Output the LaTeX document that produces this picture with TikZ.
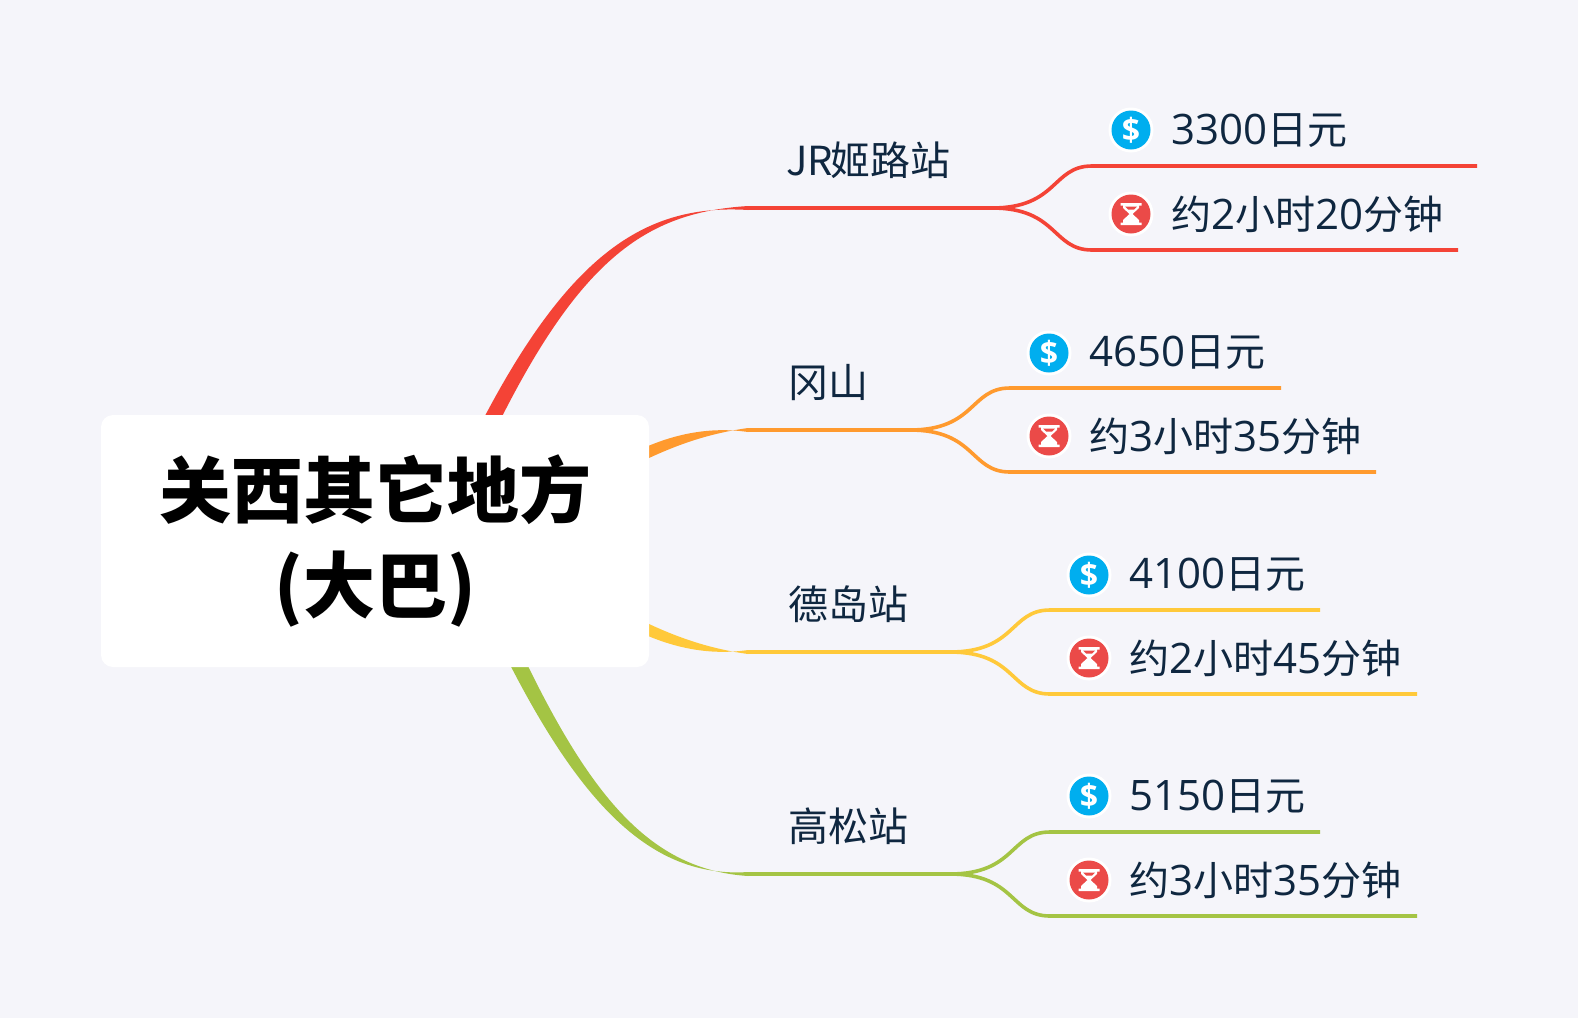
\documentclass[tikz,border=0pt]{standalone}
\usepackage{fontspec}
\setmainfont{Noto Sans}
\newfontfamily\cjk{Noto Sans CJK SC}
\newfontfamily\lat{Open Sans}
\definecolor{bgc}{HTML}{F5F5FA}
\definecolor{ink}{HTML}{0F2740}
\definecolor{cred}{HTML}{F44336}
\definecolor{corg}{HTML}{FF9A2E}
\definecolor{cyel}{HTML}{FFC93A}
\definecolor{cgrn}{HTML}{A4C444}
\definecolor{iblue}{HTML}{00AEEF}
\definecolor{ired}{HTML}{EB4A48}
\newcommand{\dg}[1]{{\lat\fontsize{42}{48}\selectfont #1}}
\tikzset{
  x=1pt,y=-1pt,
  rootbox/.style={fill=white,rounded corners=12pt,minimum width=548pt,minimum height=252pt,inner sep=0pt,align=center,text=black,font=\cjk\bfseries\fontsize{72}{96}\selectfont},
  branchlabel/.style={anchor=base west,inner sep=0pt,text=ink,font=\cjk\fontsize{40}{48}\selectfont},
  leaflabel/.style={anchor=base west,inner sep=0pt,text=ink,font=\cjk\fontsize{40}{48}\selectfont},
  iconring/.style={circle,fill=white,minimum size=45pt,inner sep=0pt},
  moneyicon/.style={iconring,path picture={\fill[iblue] (path picture bounding box.center) circle[radius=19.5pt];
     \node[text=white,font=\lat\bfseries\fontsize{32}{32}\selectfont,inner sep=0pt] at (path picture bounding box.center) {\$};}},
  timeicon/.style={iconring,path picture={\fill[ired] (path picture bounding box.center) circle[radius=19.5pt];
     \begin{scope}[shift={(path picture bounding box.center)}]
       \fill[white] (-10.5,-11) -- (10.5,-11) -- (10.5,-8.5) -- (8,-8.5) -- (8,-6) -- (1.5,0) -- (8,6) -- (8,8.5) -- (10.5,8.5) -- (10.5,11) -- (-10.5,11) -- (-10.5,8.5) -- (-8,8.5) -- (-8,6) -- (-1.5,0) -- (-8,-6) -- (-8,-8.5) -- (-10.5,-8.5) -- cycle;
       \fill[ired] (-6,-7.5) -- (6,-7.5) -- (3,-4.5) -- (-3,-4.5) -- cycle;
     \end{scope}}},
  twig/.style={line width=3.6pt,line cap=butt,draw=#1},
}
\begin{document}
\begin{tikzpicture}
\useasboundingbox[fill=bgc] (0,0) rectangle (1578,1018);
% end points of the main branches
\coordinate (ra) at (748,208); \coordinate (rj) at (992,208);
\coordinate (oa) at (748,430); \coordinate (oj) at (910,430);
\coordinate (ya) at (748,652); \coordinate (yj) at (950,652);
\coordinate (ga) at (748,874); \coordinate (gj) at (950,874);
% tapered main branches
\fill[cred] (473.8,437.5) .. controls (566.6,253.4) and (645,203.5) .. ([yshift=-2pt]ra) -- ([yshift=2pt]ra) .. controls (645,212.5) and (577.4,258.6) .. (488.2,444.5) -- cycle;
\fill[corg] (625,457) .. controls (670,433) and (710,426.5) .. ([yshift=-2pt]oa) -- ([yshift=2pt]oa) .. controls (712,433) and (675,443.5) .. (625,470) -- cycle;
\fill[cyel] (625,625) .. controls (670,649) and (710,655.5) .. ([yshift=2pt]ya) -- ([yshift=-2pt]ya) .. controls (712,649) and (675,638.5) .. (625,612) -- cycle;
\fill[cgrn] (516.2,641.5) .. controls (589.4,797.4) and (650,869.5) .. ([yshift=-2pt]ga) -- ([yshift=2pt]ga) .. controls (650,878.5) and (578.6,802.6) .. (501.8,648.5) -- cycle;
\draw[twig=cred] (ra) -- (rj);
\draw[twig=corg] (oa) -- (oj);
\draw[twig=cyel] (ya) -- (yj);
\draw[twig=cgrn] (ga) -- (gj);
% root
\node[rootbox] (root) at (375,541) {\raisebox{-3pt}{关西其它地方}\\\raisebox{-2pt}{(大巴)}};
% group 1
\node[branchlabel] (b1) at (786,175) {JR\kern-3pt 姬路站};
\coordinate (a1) at (1092,166); \coordinate (a1e) at (1477,166);
\coordinate (a2) at (1092,250); \coordinate (a2e) at (1458,250);
\draw[twig=cred] (rj) .. controls +(66,0) and +(-40,0) .. (a1) -- (a1e);
\draw[twig=cred] (rj) .. controls +(66,0) and +(-40,0) .. (a2) -- (a2e);
\node[moneyicon] (i1) at (1131,130) {};
\node[timeicon] (i2) at (1131,214) {};
\node[leaflabel] (t1) at (1171,144) {\dg{3300}日元};
\node[leaflabel] (t2) at (1171,229) {约\dg{2}小时\dg{20}分钟};
% group 2
\node[branchlabel] (b2) at (788,397) {冈山};
\coordinate (a3) at (1010,388); \coordinate (a3e) at (1281,388);
\coordinate (a4) at (1010,472); \coordinate (a4e) at (1376,472);
\draw[twig=corg] (oj) .. controls +(66,0) and +(-40,0) .. (a3) -- (a3e);
\draw[twig=corg] (oj) .. controls +(66,0) and +(-40,0) .. (a4) -- (a4e);
\node[moneyicon] (i3) at (1049,353) {};
\node[timeicon] (i4) at (1049,436) {};
\node[leaflabel] (t3) at (1089,366) {\dg{4650}日元};
\node[leaflabel] (t4) at (1089,451) {约\dg{3}小时\dg{35}分钟};
% group 3
\node[branchlabel] (b3) at (788,619) {德岛站};
\coordinate (a5) at (1050,610); \coordinate (a5e) at (1320,610);
\coordinate (a6) at (1050,694); \coordinate (a6e) at (1417,694);
\draw[twig=cyel] (yj) .. controls +(66,0) and +(-40,0) .. (a5) -- (a5e);
\draw[twig=cyel] (yj) .. controls +(66,0) and +(-40,0) .. (a6) -- (a6e);
\node[moneyicon] (i5) at (1089,575) {};
\node[timeicon] (i6) at (1089,658) {};
\node[leaflabel] (t5) at (1129,588) {\dg{4100}日元};
\node[leaflabel] (t6) at (1129,673) {约\dg{2}小时\dg{45}分钟};
% group 4
\node[branchlabel] (b4) at (788,841) {高松站};
\coordinate (a7) at (1050,832); \coordinate (a7e) at (1320,832);
\coordinate (a8) at (1050,916); \coordinate (a8e) at (1417,916);
\draw[twig=cgrn] (gj) .. controls +(66,0) and +(-40,0) .. (a7) -- (a7e);
\draw[twig=cgrn] (gj) .. controls +(66,0) and +(-40,0) .. (a8) -- (a8e);
\node[moneyicon] (i7) at (1089,796) {};
\node[timeicon] (i8) at (1089,880) {};
\node[leaflabel] (t7) at (1129,810) {\dg{5150}日元};
\node[leaflabel] (t8) at (1129,895) {约\dg{3}小时\dg{35}分钟};
\end{tikzpicture}
\end{document}
